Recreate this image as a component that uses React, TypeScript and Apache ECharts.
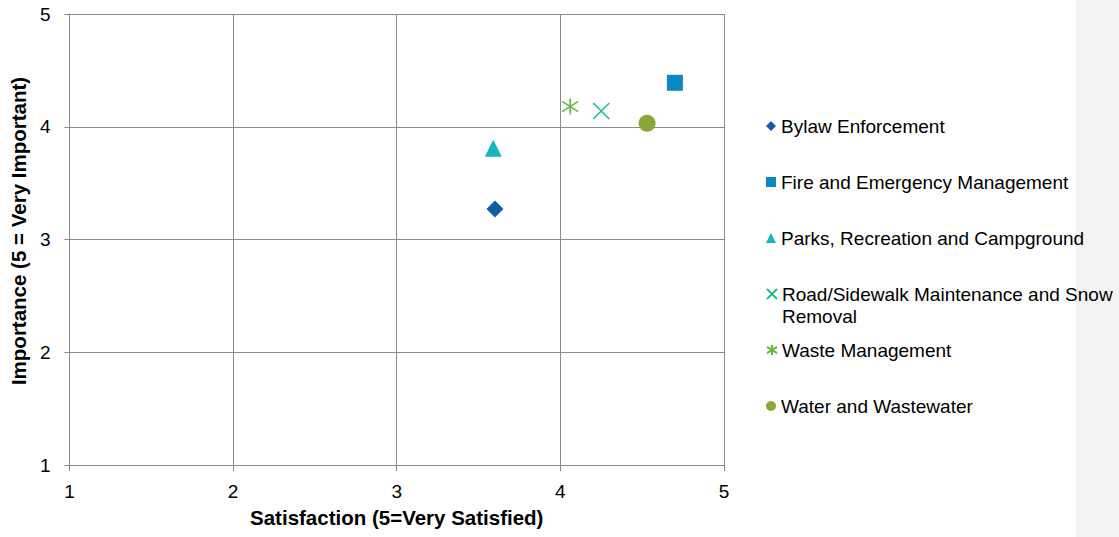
import React, { useEffect, useRef } from "react";
import * as echarts from "echarts";

const seriesNames = [
  "Bylaw Enforcement",
  "Fire and Emergency Management",
  "Parks, Recreation and Campground",
  "Road/Sidewalk Maintenance and Snow\nRemoval",
  "Waste Management",
  "Water and Wastewater",
];
const satisfaction = [3.6, 4.7, 3.59, 4.25, 4.06, 4.53];
const importance = [3.27, 4.39, 3.81, 4.14, 4.18, 4.03];
const axisTicks = [1, 2, 3, 4, 5];

const colors = ["#155AA9", "#0A88C3", "#16B6C1", "#1FBE88", "#62B946", "#8BA73A"];
const symbols = [
  "diamond",
  "rect",
  "triangle",
  "path://M0,0L10,10M10,0L0,10",
  "path://M5,0L5,10M0,1.8L10,8.2M0,8.2L10,1.8",
  "circle",
];
const symbolSizes = [17, 16, 17, 16, 16, 17];
const legendCenters = [126, 182, 238, 294, 350, 406];

const FONT = "'Liberation Sans', Arial, sans-serif";

export default function App() {
  const ref = useRef<HTMLDivElement>(null);
  useEffect(() => {
    if (!ref.current) return;
    const chart = echarts.init(ref.current, null, { renderer: "svg" });
    const series = seriesNames.map((name, i) => {
      const stroked = i === 3 || i === 4;
      return {
        type: "scatter",
        name,
        symbol: symbols[i],
        symbolSize: symbolSizes[i],
        data: [[satisfaction[i], importance[i]]],
        itemStyle: stroked
          ? { color: "rgba(0,0,0,0)", borderColor: colors[i], borderWidth: 1.6, opacity: 1 }
          : { color: colors[i], opacity: 1 },
        emphasis: { disabled: true },
      };
    });
    const legends = seriesNames.map((name, i) => {
      const multi = name.includes("\n");
      return {
        data: [name],
        left: 766,
        top: multi ? legendCenters[i] - 33 : legendCenters[i] - 11,
        orient: "vertical",
        padding: 0,
        itemGap: 0,
        itemWidth: 10,
        itemHeight: 10,
        selectedMode: false,
        formatter: (n: string) => (n.includes("\n") ? " \n" + n : n),
        itemStyle: { opacity: 1 },
        textStyle: {
          fontFamily: FONT,
          fontSize: 19,
          lineHeight: 22,
          color: "#000",
        },
      };
    });
    chart.setOption({
      animation: false,
      backgroundColor: "#fff",
      grid: { left: 67, right: 395, top: 14, bottom: 72 },
      xAxis: {
        type: "value",
        min: axisTicks[0],
        max: axisTicks[axisTicks.length - 1],
        interval: 1,
        name: "Satisfaction (5=Very Satisfied)",
        nameLocation: "middle",
        nameGap: 42,
        nameTextStyle: { fontFamily: FONT, fontSize: 20.5, fontWeight: "bold", color: "#000" },
        axisLine: { show: true, lineStyle: { color: "#898989", width: 1 } },
        axisTick: { show: true, length: 6, lineStyle: { color: "#898989" } },
        axisLabel: { fontFamily: FONT, fontSize: 19, color: "#000", margin: 17 },
        splitLine: { show: true, lineStyle: { color: "#898989", width: 1 } },
      },
      yAxis: {
        type: "value",
        min: axisTicks[0],
        max: axisTicks[axisTicks.length - 1],
        interval: 1,
        name: "Importance (5 = Very Important)",
        nameLocation: "middle",
        nameGap: 37,
        nameTextStyle: {
          fontFamily: FONT,
          fontSize: 20.5,
          fontWeight: "bold",
          color: "#000",
          padding: [0, 0, 0, 17],
        },
        axisLine: { show: true, lineStyle: { color: "#898989", width: 1 } },
        axisTick: { show: true, length: 5, lineStyle: { color: "#898989" } },
        axisLabel: { fontFamily: FONT, fontSize: 19, color: "#000", margin: 19 },
        splitLine: { show: true, lineStyle: { color: "#898989", width: 1 } },
      },
      legend: legends,
      graphic: [
        {
          type: "rect",
          left: 1076,
          top: 0,
          z: -10,
          shape: { width: 43, height: 537 },
          style: { fill: "#F2F2F2" },
          silent: true,
        },
      ],
      series,
    });
    return () => chart.dispose();
  }, []);
  return (
    <div
      ref={ref}
      style={{ position: "absolute", left: 0, top: 0, width: 1119, height: 537 }}
    />
  );
}
